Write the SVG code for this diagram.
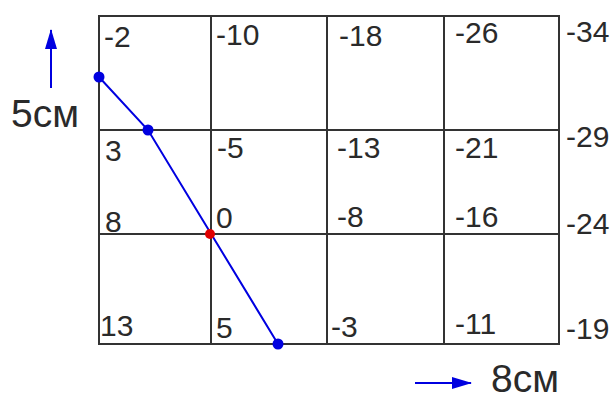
<svg xmlns="http://www.w3.org/2000/svg" width="614" height="401" viewBox="0 0 614 401">
<defs>
<style>
.g{stroke:#333;stroke-width:2;fill:none}
.t{font-family:"Liberation Sans",Arial,sans-serif;font-size:30px;fill:#2a2a2a}
.big{font-family:"Liberation Sans",Arial,sans-serif;font-size:39px;fill:#2a2a2a}
.b{stroke:#0000e0;stroke-width:2;fill:none}
</style>
<marker id="ah" viewBox="0 0 20 12" refX="19" refY="6" markerWidth="10" markerHeight="6" orient="auto" markerUnits="strokeWidth"><path d="M0,0 L20,6 L0,12 z" fill="#0000e0"/></marker>
</defs>
<rect width="614" height="401" fill="#fff"/>
<g id="grid">
<rect class="g" x="99" y="16" width="460" height="328"/>
<line class="g" x1="211" y1="16" x2="211" y2="344"/>
<line class="g" x1="327" y1="16" x2="327" y2="344"/>
<line class="g" x1="444" y1="16" x2="444" y2="344"/>
<line class="g" x1="99" y1="130" x2="559" y2="130"/>
<line class="g" x1="99" y1="234" x2="559" y2="234"/>
</g>
<g id="labels" class="t">
<text x="104" y="47">-2</text>
<text x="216" y="45">-10</text>
<text x="339" y="46">-18</text>
<text x="455" y="43">-26</text>
<text x="566" y="42">-34</text>
<text x="105" y="161">3</text>
<text x="217" y="158">-5</text>
<text x="337" y="158">-13</text>
<text x="455" y="158">-21</text>
<text x="566" y="147">-29</text>
<text x="105" y="232">8</text>
<text x="216" y="228">0</text>
<text x="337" y="227">-8</text>
<text x="455" y="227">-16</text>
<text x="566" y="234">-24</text>
<text x="100" y="336">13</text>
<text x="216" y="338">5</text>
<text x="331" y="337">-3</text>
<text x="455" y="334">-11</text>
<text x="566" y="339">-19</text>
</g>
<g id="connectors">
<polyline class="b" points="99,77 148,130 278,344"/>
<line class="b" x1="51" y1="88" x2="51" y2="30" marker-end="url(#ah)"/>
<line class="b" x1="415" y1="383" x2="471" y2="383" marker-end="url(#ah)"/>
</g>
<g id="points">
<circle cx="99" cy="77" r="5.5" fill="#0000e0"/>
<circle cx="148" cy="130" r="5.5" fill="#0000e0"/>
<circle cx="210" cy="234" r="5" fill="#e00000"/>
<circle cx="278" cy="344" r="5.5" fill="#0000e0"/>
</g>
<g id="axis-labels" class="big">
<text x="11" y="127">5см</text>
<text x="491" y="392">8см</text>
</g>
</svg>
